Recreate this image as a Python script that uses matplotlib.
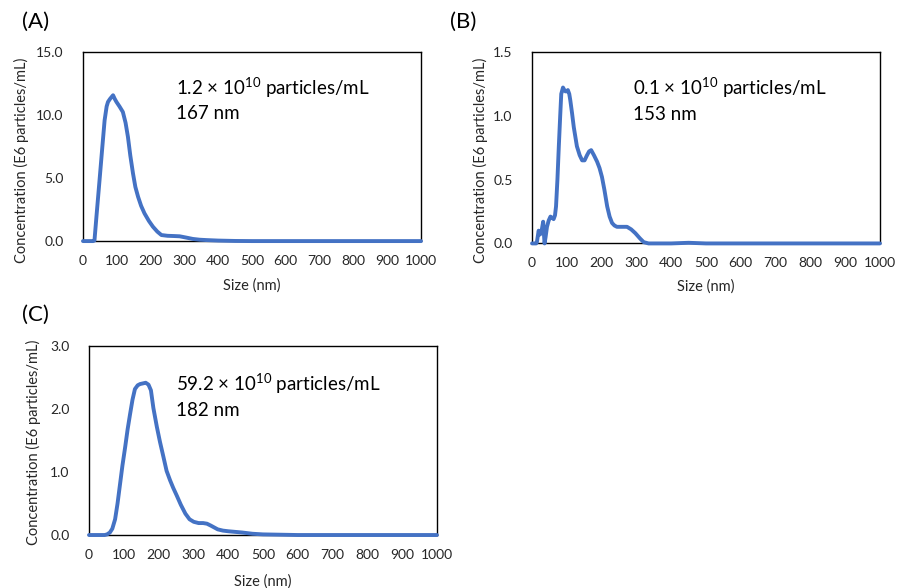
import matplotlib
matplotlib.use("Agg")
import matplotlib.pyplot as plt

plt.rcParams["font.family"] = ["Lato", "DejaVu Sans"]
plt.rcParams["mathtext.fontset"] = "custom"
plt.rcParams["mathtext.rm"] = "Lato"
plt.rcParams["mathtext.it"] = "Lato:italic"

# --- data ---
size_a = [0, 30, 34, 40, 49, 57, 64, 70, 74, 80, 89, 94, 99, 108, 118, 126, 133,
          140, 148, 155, 163, 172, 182, 195, 207, 220, 232, 250, 270, 286, 305,
          325, 345, 365, 400, 450, 500, 1000]
conc_a = [0, 0, 0.05, 2.0, 4.84, 7.4, 9.6, 10.7, 11.06, 11.3, 11.59, 11.3, 11.06,
          10.7, 10.26, 9.4, 8.28, 6.8, 5.37, 4.3, 3.52, 2.8, 2.2, 1.6, 1.14, 0.75,
          0.48, 0.42, 0.4, 0.38, 0.28, 0.17, 0.11, 0.08, 0.04, 0.01, 0.0, 0.0]

size_b = [0, 12, 14, 19, 23, 27, 32, 34, 36, 39, 43, 48, 53, 58, 62, 66, 69, 73,
          77, 81, 84, 89, 93, 96, 100, 103, 107, 110, 115, 120, 129, 137, 144,
          151, 158, 164, 170, 178, 187, 194, 201, 208, 216, 223, 230, 237, 244,
          258, 273, 285, 297, 310, 321, 335, 400, 450, 500, 600, 1000]
conc_b = [0, 0, 0.01, 0.10, 0.07, 0.09, 0.17, 0.08, 0.0, 0.05, 0.13, 0.18, 0.21,
          0.2, 0.19, 0.22, 0.29, 0.5, 0.76, 1.0, 1.17, 1.22, 1.2, 1.19, 1.19, 1.2,
          1.17, 1.12, 1.02, 0.91, 0.76, 0.69, 0.65, 0.65, 0.69, 0.72, 0.73, 0.69,
          0.64, 0.59, 0.52, 0.42, 0.29, 0.21, 0.16, 0.14, 0.13, 0.13, 0.13, 0.11,
          0.08, 0.04, 0.01, 0.0, 0.0, 0.005, 0.0, 0.0, 0.0]

size_c = [0, 45, 52, 60, 67, 75, 82, 89, 96, 104, 111, 118, 125, 132, 140, 147,
          155, 163, 171, 178, 185, 195, 204, 214, 223, 233, 242, 252, 264, 277,
          289, 301, 315, 328, 339, 350, 360, 370, 385, 400, 420, 440, 470, 500,
          550, 600, 1000]
conc_c = [0, 0, 0.01, 0.04, 0.1, 0.25, 0.5, 0.8, 1.1, 1.4, 1.68, 1.92, 2.15, 2.32,
          2.38, 2.4, 2.41, 2.42, 2.39, 2.3, 2.02, 1.72, 1.48, 1.24, 1.02, 0.87,
          0.75, 0.63, 0.48, 0.34, 0.25, 0.21, 0.19, 0.19, 0.18, 0.15, 0.12, 0.09,
          0.07, 0.06, 0.05, 0.04, 0.02, 0.01, 0.005, 0.0, 0.0]

yticks_a = [0, 5, 10, 15]
yticks_b = [0, 0.5, 1.0, 1.5]
yticks_c = [0, 1, 2, 3]
xticks = list(range(0, 1001, 100))

counts = ["1.2", "0.1", "59.2"]
modes = ["167 nm", "153 nm", "182 nm"]
tags = ["(A)", "(B)", "(C)"]

# layout per panel: axes rect, ylabel centre, xlabel centre y, text x, text line y's
layout = [
    ([0.0923, 0.590, 0.376, 0.321], (-0.181, 0.43), -0.238, 0.274, (0.81, 0.677)),
    ([0.5918, 0.586, 0.387, 0.326], (-0.149, 0.435), -0.223, 0.291, (0.809, 0.675)),
    ([0.099, 0.0901, 0.387, 0.321], (-0.160, 0.49), -0.247, 0.249, (0.803, 0.661)),
]
tag_pos = [(0.024, 0.962), (0.5005, 0.962), (0.024, 0.464)]

series = [(size_a, conc_a, yticks_a), (size_b, conc_b, yticks_b), (size_c, conc_c, yticks_c)]

fig = plt.figure(figsize=(8.99, 5.88), dpi=100)
text_col = "#262626"

for i, (xs, ys, yt) in enumerate(series):
    rect, ylc, xly, tx, tys = layout[i]
    ax = fig.add_axes(rect)
    ax.plot(xs, ys, color="#4472C4", linewidth=2.8, solid_joinstyle="round",
            solid_capstyle="round", clip_on=False, zorder=3)
    ax.set_xlim(0, 1000)
    ax.set_ylim(yt[0], yt[-1])
    ax.set_xticks(xticks)
    ax.set_yticks(yt)
    ax.set_yticklabels([f"{v:.1f}" for v in yt])
    ax.tick_params(length=0, labelsize=10, colors=text_col)
    ax.tick_params(axis="x", pad=10)
    ax.tick_params(axis="y", pad=14)
    for s in ax.spines.values():
        s.set_color("black")
        s.set_linewidth(1.0)
    ax.set_ylabel("Concentration (E6 particles/mL)", fontsize=10.5, color=text_col,
                  va="center")
    ax.yaxis.set_label_coords(*ylc)
    ax.set_xlabel("Size (nm)", fontsize=10.5, color=text_col, va="center")
    ax.xaxis.set_label_coords(0.5, xly)
    ax.text(tx, tys[0], counts[i] + r" × 10$^{10}$ particles/mL", transform=ax.transAxes,
            fontsize=13.5, va="center", ha="left", color="black")
    ax.text(tx, tys[1], modes[i], transform=ax.transAxes,
            fontsize=13.5, va="center", ha="left", color="black")
    fig.text(*tag_pos[i], tags[i], fontsize=16, ha="left", va="center")

fig.savefig("out.png", dpi=100)
